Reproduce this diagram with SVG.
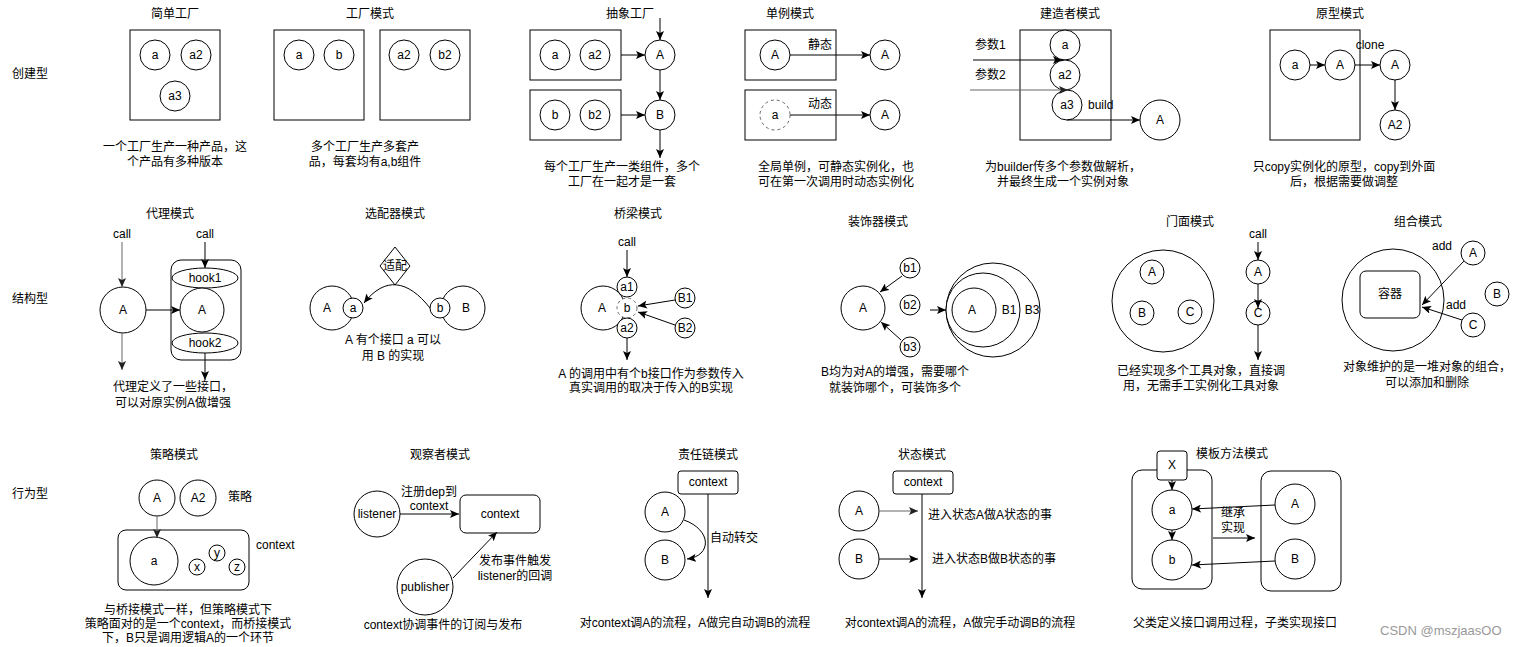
<svg xmlns="http://www.w3.org/2000/svg" width="1520" height="647" viewBox="0 0 1520 647">
<style>
text{font-family:"Liberation Sans","Noto Sans CJK SC",sans-serif;font-size:12px;fill:#000;text-anchor:middle;dominant-baseline:central}
.l{text-anchor:start}
.s{fill:#fff;stroke:#000;stroke-width:1}
.n{fill:none;stroke:#000;stroke-width:1}
.c{fill:none;stroke:#000;stroke-width:1;marker-end:url(#ah)}
.g{fill:none;stroke:#666;stroke-width:1;marker-end:url(#ag)}
.d{stroke:#666;stroke-dasharray:3 3}
.wm{font-size:13px;fill:#999;text-anchor:start}
</style>
<defs>
<marker id="ah" markerUnits="userSpaceOnUse" markerWidth="9" markerHeight="8" viewBox="0 0 9 8" refX="9" refY="4" orient="auto"><path d="M0,0 L9,4 L0,8 L2,4 Z" fill="#000"/></marker>
<marker id="ag" markerUnits="userSpaceOnUse" markerWidth="9" markerHeight="8" viewBox="0 0 9 8" refX="9" refY="4" orient="auto"><path d="M0,0 L9,4 L0,8 L2,4 Z" fill="#222"/></marker>
</defs>
<rect width="1520" height="647" fill="#fff"/>

<g id="row-labels">
<text class="l" x="12" y="74">创建型</text>
<text class="l" x="12" y="299">结构型</text>
<text class="l" x="12" y="494">行为型</text>
</g>

<g id="simple-factory">
<text x="175" y="14">简单工厂</text>
<rect class="s" x="130" y="30" width="90" height="90"/>
<circle class="s" cx="155" cy="55" r="15"/><text x="155" y="55">a</text>
<circle class="s" cx="196" cy="55" r="15"/><text x="196" y="55">a2</text>
<circle class="s" cx="175" cy="96" r="15"/><text x="175" y="96">a3</text>
<text x="175" y="147">一个工厂生产一种产品，这</text>
<text x="175" y="162">个产品有多种版本</text>
</g>

<g id="factory-method">
<text x="370" y="14">工厂模式</text>
<rect class="s" x="274" y="30" width="90" height="90"/>
<circle class="s" cx="299" cy="55" r="15"/><text x="299" y="55">a</text>
<circle class="s" cx="339" cy="55" r="15"/><text x="339" y="55">b</text>
<rect class="s" x="380" y="30" width="90" height="90"/>
<circle class="s" cx="404" cy="55" r="15"/><text x="404" y="55">a2</text>
<circle class="s" cx="445" cy="55" r="15"/><text x="445" y="55">b2</text>
<text x="365" y="147">多个工厂生产多套产</text>
<text x="365" y="162">品，每套均有a,b组件</text>
</g>

<g id="abstract-factory">
<text x="630" y="14">抽象工厂</text>
<rect class="s" x="530" y="30" width="91" height="50"/>
<circle class="s" cx="555" cy="55" r="15"/><text x="555" y="55">a</text>
<circle class="s" cx="595" cy="55" r="15"/><text x="595" y="55">a2</text>
<rect class="s" x="530" y="90" width="91" height="50"/>
<circle class="s" cx="555" cy="115" r="15"/><text x="555" y="115">b</text>
<circle class="s" cx="595" cy="115" r="15"/><text x="595" y="115">b2</text>
<circle class="s" cx="660" cy="55" r="15"/><text x="660" y="55">A</text>
<circle class="s" cx="660" cy="115" r="15"/><text x="660" y="115">B</text>
<text x="622" y="167">每个工厂生产一类组件，多个</text>
<text x="622" y="182">工厂在一起才是一套</text>
</g>

<g id="singleton">
<text x="790" y="14">单例模式</text>
<rect class="s" x="745" y="30" width="91" height="50"/>
<circle class="s" cx="775" cy="55" r="15"/><text x="775" y="55">A</text>
<text x="820" y="45">静态</text>
<rect class="s" x="745" y="90" width="91" height="50"/>
<circle class="s d" cx="775" cy="115" r="15"/><text x="775" y="115">a</text>
<text x="820" y="104">动态</text>
<circle class="s" cx="885" cy="55" r="15"/><text x="885" y="55">A</text>
<circle class="s" cx="885" cy="115" r="15"/><text x="885" y="115">A</text>
<text x="836" y="167">全局单例，可静态实例化，也</text>
<text x="836" y="182">可在第一次调用时动态实例化</text>
</g>

<g id="builder">
<text x="1070" y="14">建造者模式</text>
<rect class="s" x="1020" y="30" width="91" height="110"/>
<circle class="s" cx="1065" cy="45" r="15"/><text x="1065" y="45">a</text>
<circle class="s" cx="1065" cy="75" r="15"/><text x="1065" y="75">a2</text>
<circle class="s" cx="1067" cy="105" r="15"/><text x="1067" y="105">a3</text>
<text class="l" x="975" y="45">参数1</text>
<text class="l" x="975" y="75">参数2</text>
<text class="l" x="1088" y="105">build</text>
<circle class="s" cx="1160" cy="120" r="20"/><text x="1160" y="120">A</text>
<text x="1063" y="167">为builder传多个参数做解析，</text>
<text x="1063" y="182">并最终生成一个实例对象</text>
</g>

<g id="prototype">
<text x="1340" y="14">原型模式</text>
<rect class="s" x="1270" y="30" width="90" height="110"/>
<circle class="s" cx="1295" cy="65" r="15"/><text x="1295" y="65">a</text>
<circle class="s" cx="1340" cy="65" r="15"/><text x="1340" y="65">A</text>
<text x="1370" y="45">clone</text>
<circle class="s" cx="1395" cy="65" r="15"/><text x="1395" y="65">A</text>
<circle class="s" cx="1395" cy="125" r="15"/><text x="1395" y="125">A2</text>
<text x="1344" y="167">只copy实例化的原型，copy到外面</text>
<text x="1344" y="182">后，根据需要做调整</text>
</g>

<g id="proxy">
<text x="170" y="214">代理模式</text>
<text x="122" y="234">call</text>
<text x="205" y="234">call</text>
<circle class="s" cx="123" cy="310" r="23"/><text x="123" y="310">A</text>
<rect class="s" x="171" y="260" width="70" height="100" rx="10"/>
<ellipse class="s" cx="205" cy="278" rx="33" ry="10"/><text x="205" y="278">hook1</text>
<circle class="s" cx="202" cy="310" r="22"/><text x="202" y="310">A</text>
<ellipse class="s" cx="205" cy="343" rx="33" ry="10"/><text x="205" y="343">hook2</text>
<text x="173" y="387">代理定义了一些接口，</text>
<text x="173" y="403">可以对原实例A做增强</text>
</g>

<g id="adapter">
<text x="395" y="214">选配器模式</text>
<polygon class="s" points="395,247 410,266 395,285 380,266"/><text x="395" y="266">适配</text>
<circle class="s" cx="332" cy="308" r="22"/><text x="327" y="308">A</text>
<circle class="s" cx="353" cy="308" r="10"/><text x="353" y="308">a</text>
<circle class="s" cx="463" cy="308" r="22"/><text x="466" y="308">B</text>
<circle class="s" cx="440" cy="308" r="10"/><text x="440" y="308">b</text>
<text x="393" y="340">A 有个接口 a 可以</text>
<text x="393" y="356">用 B 的实现</text>
</g>

<g id="bridge">
<text x="638" y="214">桥梁模式</text>
<text x="627" y="242">call</text>
<circle class="s" cx="603" cy="308" r="22"/><text x="602" y="308">A</text>
<circle class="s" cx="627" cy="287" r="10"/><text x="627" y="287">a1</text>
<circle class="s d" cx="627" cy="308" r="10"/><text x="627" y="308">b</text>
<circle class="s" cx="627" cy="328" r="10"/><text x="627" y="328">a2</text>
<circle class="s" cx="685" cy="298" r="10"/><text x="685" y="298">B1</text>
<circle class="s" cx="685" cy="328" r="10"/><text x="685" y="328">B2</text>
<text x="651" y="374">A 的调用中有个b接口作为参数传入</text>
<text x="651" y="388">真实调用的取决于传入的B实现</text>
</g>

<g id="decorator">
<text x="878" y="222">装饰器模式</text>
<circle class="s" cx="863" cy="308" r="22"/><text x="863" y="308">A</text>
<circle class="s" cx="910" cy="268" r="10"/><text x="910" y="268">b1</text>
<circle class="s" cx="910" cy="305" r="10"/><text x="910" y="305">b2</text>
<circle class="s" cx="910" cy="347" r="10"/><text x="910" y="347">b3</text>
<circle class="s" cx="993" cy="310" r="47"/>
<circle class="s" cx="983" cy="310" r="37"/>
<circle class="s" cx="974" cy="310" r="22"/>
<text x="972" y="310">A</text>
<text x="1009" y="310">B1</text>
<text x="1032" y="310">B3</text>
<text x="895" y="372">B均为对A的增强，需要哪个</text>
<text x="895" y="388">就装饰哪个，可装饰多个</text>
</g>

<g id="facade">
<text x="1190" y="222">门面模式</text>
<circle class="s" cx="1163" cy="301" r="51"/>
<circle class="s" cx="1152" cy="272" r="12"/><text x="1152" y="272">A</text>
<circle class="s" cx="1142" cy="313" r="12"/><text x="1142" y="313">B</text>
<circle class="s" cx="1190" cy="312" r="12"/><text x="1190" y="312">C</text>
<text x="1258" y="234">call</text>
<circle class="s" cx="1258" cy="272" r="12"/><text x="1258" y="272">A</text>
<circle class="s" cx="1258" cy="313" r="12"/><text x="1258" y="313">C</text>
<text x="1201" y="371">已经实现多个工具对象，直接调</text>
<text x="1201" y="386">用，无需手工实例化工具对象</text>
</g>

<g id="composite">
<text x="1418" y="222">组合模式</text>
<circle class="s" cx="1393" cy="300" r="51"/>
<rect class="s" x="1360" y="271" width="60" height="47" rx="6"/><text x="1390" y="294">容器</text>
<circle class="s" cx="1473" cy="253" r="12"/><text x="1473" y="253">A</text>
<circle class="s" cx="1497" cy="294" r="12"/><text x="1497" y="294">B</text>
<circle class="s" cx="1473" cy="325" r="12"/><text x="1473" y="325">C</text>
<text x="1442" y="246">add</text>
<text x="1456" y="305">add</text>
<text x="1427" y="367">对象维护的是一堆对象的组合，</text>
<text x="1427" y="383">可以添加和删除</text>
</g>

<g id="strategy">
<text x="174" y="455">策略模式</text>
<circle class="s" cx="157" cy="498" r="18"/><text x="157" y="498">A</text>
<circle class="s" cx="198" cy="498" r="18"/><text x="198" y="498">A2</text>
<text x="240" y="497">策略</text>
<rect class="s" x="118" y="530" width="131" height="60" rx="8"/>
<circle class="s" cx="154" cy="561" r="24"/><text x="154" y="561">a</text>
<circle class="s" cx="197" cy="567" r="8"/><text x="197" y="567">x</text>
<circle class="s" cx="217" cy="553" r="8"/><text x="217" y="553">y</text>
<circle class="s" cx="237" cy="567" r="8"/><text x="237" y="567">z</text>
<text class="l" x="256" y="545">context</text>
<text x="188" y="610">与桥接模式一样，但策略模式下</text>
<text x="188" y="624">策略面对的是一个context，而桥接模式</text>
<text x="188" y="638">下，B只是调用逻辑A的一个环节</text>
</g>

<g id="observer">
<text x="440" y="455">观察者模式</text>
<circle class="s" cx="377" cy="514" r="23"/><text x="377" y="514">listener</text>
<rect class="s" x="460" y="495" width="80" height="38" rx="6"/><text x="500" y="514">context</text>
<text x="429" y="492">注册dep到</text>
<text x="429" y="506">context</text>
<circle class="s" cx="425" cy="587" r="28"/><text x="425" y="587">publisher</text>
<text x="515" y="561">发布事件触发</text>
<text x="515" y="576">listener的回调</text>
<text x="443" y="625">context协调事件的订阅与发布</text>
</g>

<g id="chain">
<text x="708" y="455">责任链模式</text>
<rect class="s" x="678" y="471" width="60" height="23" rx="3"/><text x="708" y="482">context</text>
<circle class="s" cx="665" cy="512" r="20"/><text x="665" y="512">A</text>
<circle class="s" cx="665" cy="560" r="20"/><text x="665" y="560">B</text>
<text class="l" x="710" y="538">自动转交</text>
<text x="695" y="623">对context调A的流程，A做完自动调B的流程</text>
</g>

<g id="state">
<text x="922" y="455">状态模式</text>
<rect class="s" x="893" y="471" width="60" height="23" rx="3"/><text x="923" y="482">context</text>
<circle class="s" cx="859" cy="511" r="20"/><text x="859" y="511">A</text>
<circle class="s" cx="859" cy="559" r="20"/><text x="859" y="559">B</text>
<text class="l" x="928" y="515">进入状态A做A状态的事</text>
<text class="l" x="932" y="559">进入状态B做B状态的事</text>
<text x="960" y="623">对context调A的流程，A做完手动调B的流程</text>
</g>

<g id="template-method">
<text x="1232" y="454">模板方法模式</text>
<rect class="s" x="1132" y="470" width="80" height="119" rx="10"/>
<rect class="s" x="1157" y="451" width="30" height="29" rx="3"/><text x="1172" y="465">X</text>
<circle class="s" cx="1172" cy="510" r="20"/><text x="1172" y="510">a</text>
<circle class="s" cx="1172" cy="560" r="20"/><text x="1172" y="560">b</text>
<rect class="s" x="1261" y="471" width="80" height="120" rx="10"/>
<circle class="s" cx="1295" cy="504" r="20"/><text x="1295" y="504">A</text>
<circle class="s" cx="1295" cy="559" r="20"/><text x="1295" y="559">B</text>
<text x="1233" y="513">继承</text>
<text x="1233" y="528">实现</text>
<text x="1235" y="623">父类定义接口调用过程，子类实现接口</text>
</g>

<g id="connectors">
<line class="c" x1="660" y1="18" x2="660" y2="40"/>
<line class="c" x1="621" y1="55" x2="645" y2="55"/>
<line class="c" x1="621" y1="115" x2="645" y2="115"/>
<line class="c" x1="660" y1="70" x2="660" y2="100"/>
<line class="c" x1="660" y1="130" x2="660" y2="158"/>
<line class="c" x1="790" y1="55" x2="870" y2="55"/>
<line class="c" x1="790" y1="115" x2="870" y2="115"/>
<line class="c" x1="973" y1="60" x2="1062" y2="60"/>
<line class="g" x1="970" y1="90" x2="1068" y2="90"/>
<path class="c" d="M1067,120 L1140,120"/>
<line class="c" x1="1310" y1="65" x2="1325" y2="65"/>
<line class="c" x1="1355" y1="65" x2="1380" y2="65"/>
<line class="c" x1="1395" y1="80" x2="1395" y2="110"/>
<line class="g" x1="122" y1="242" x2="122" y2="287"/>
<line class="g" x1="122" y1="333" x2="122" y2="370"/>
<line class="c" x1="146" y1="310" x2="180" y2="310"/>
<line class="c" x1="205" y1="242" x2="205" y2="268"/>
<line class="c" x1="205" y1="353" x2="205" y2="380"/>
<path class="c" d="M430,308 C408,280 385,276 364,303"/>
<line class="c" x1="627" y1="250" x2="627" y2="277"/>
<line class="c" x1="675" y1="300" x2="638" y2="306"/>
<line class="c" x1="675" y1="325" x2="638" y2="312"/>
<line class="c" x1="627" y1="338" x2="627" y2="360"/>
<line class="c" x1="902" y1="276" x2="880" y2="292"/>
<line class="c" x1="901" y1="340" x2="881" y2="322"/>
<line class="c" x1="930" y1="310" x2="946" y2="310"/>
<line class="c" x1="1258" y1="242" x2="1258" y2="260"/>
<line class="c" x1="1258" y1="284" x2="1258" y2="308"/>
<line class="c" x1="1258" y1="325" x2="1258" y2="360"/>
<line class="c" x1="1464" y1="261" x2="1422" y2="305"/>
<line class="c" x1="1462" y1="320" x2="1422" y2="307"/>
<line class="g" x1="157" y1="516" x2="157" y2="538"/>
<line class="c" x1="400" y1="514" x2="459" y2="514"/>
<line class="c" x1="453" y1="578" x2="497" y2="532"/>
<line class="c" x1="708" y1="494" x2="708" y2="598"/>
<path class="c" d="M684,520 C712,530 712,556 687,559"/>
<line class="c" x1="922" y1="494" x2="922" y2="598"/>
<line class="g" x1="879" y1="511" x2="918" y2="511"/>
<line class="c" x1="879" y1="559" x2="918" y2="559"/>
<line class="c" x1="1172" y1="480" x2="1172" y2="490"/>
<line class="c" x1="1172" y1="530" x2="1172" y2="540"/>
<line class="c" x1="1275" y1="505" x2="1192" y2="509"/>
<line class="c" x1="1275" y1="561" x2="1192" y2="565"/>
<line class="c" x1="1213" y1="538" x2="1255" y2="538"/>
</g>

<text class="wm" x="1380" y="630">CSDN @mszjaasOO</text>
</svg>
